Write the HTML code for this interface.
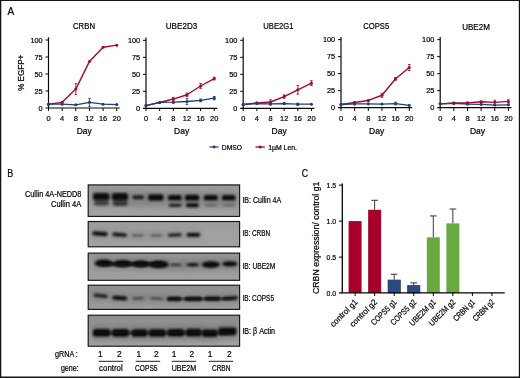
<!DOCTYPE html>
<html><head><meta charset="utf-8"><title>Figure</title>
<style>
html,body{margin:0;padding:0;background:#fff;}
body{width:520px;height:378px;overflow:hidden;font-family:"Liberation Sans",sans-serif;}
svg{display:block;}
svg text{font-family:"Liberation Sans",sans-serif;}
</style></head><body>
<svg width="520" height="378" viewBox="0 0 520 378">
<defs><filter id="b1" x="-30%" y="-60%" width="160%" height="220%"><feGaussianBlur stdDeviation="1.05 0.9"/></filter><filter id="b2" x="-50%" y="-80%" width="200%" height="260%"><feGaussianBlur stdDeviation="2.2 2.4"/></filter><clipPath id="cb0"><rect x="88.2" y="184.9" width="151.39999999999998" height="31.5"/></clipPath><linearGradient id="bg0" x1="0" y1="0" x2="0" y2="1"><stop offset="0" stop-color="#989898"/><stop offset="0.5" stop-color="#a0a0a0"/><stop offset="1" stop-color="#a1a1a1"/></linearGradient><clipPath id="cb1"><rect x="88.2" y="221.5" width="151.39999999999998" height="25.30000000000001"/></clipPath><linearGradient id="bg1" x1="0" y1="0" x2="0" y2="1"><stop offset="0" stop-color="#9a9a9a"/><stop offset="0.5" stop-color="#a1a1a1"/><stop offset="1" stop-color="#a1a1a1"/></linearGradient><clipPath id="cb2"><rect x="88.2" y="253.1" width="151.39999999999998" height="27.200000000000017"/></clipPath><linearGradient id="bg2" x1="0" y1="0" x2="0" y2="1"><stop offset="0" stop-color="#949494"/><stop offset="0.5" stop-color="#9d9d9d"/><stop offset="1" stop-color="#a0a0a0"/></linearGradient><clipPath id="cb3"><rect x="88.2" y="285.2" width="151.39999999999998" height="24.19999999999999"/></clipPath><linearGradient id="bg3" x1="0" y1="0" x2="0" y2="1"><stop offset="0" stop-color="#8f8f8f"/><stop offset="0.5" stop-color="#969696"/><stop offset="1" stop-color="#9b9b9b"/></linearGradient><clipPath id="cb4"><rect x="88.2" y="315.2" width="151.39999999999998" height="31.0"/></clipPath><linearGradient id="bg4" x1="0" y1="0" x2="0" y2="1"><stop offset="0" stop-color="#8f8f8f"/><stop offset="0.5" stop-color="#979797"/><stop offset="1" stop-color="#a2a2a2"/></linearGradient></defs>
<rect x="0" y="0" width="520" height="378" fill="#fff"/>
<g opacity="0.999">
<g transform="translate(0,0)">
<path d="M48.5,37.3V108.0" stroke="#0a0a0a" stroke-width="1.2" fill="none"/>
<path d="M45.5,108.0H119.75" stroke="#0a0a0a" stroke-width="1.2" fill="none"/>
<path d="M45.5,91.0H48.5" stroke="#000" stroke-width="1.0"/>
<path d="M45.5,74.0H48.5" stroke="#000" stroke-width="1.0"/>
<path d="M45.5,56.99999999999999H48.5" stroke="#000" stroke-width="1.0"/>
<path d="M45.5,40.0H48.5" stroke="#000" stroke-width="1.0"/>
<text x="42.7" y="110.85" font-size="8.0" text-anchor="end" fill="#000" textLength="4.1" lengthAdjust="spacingAndGlyphs" stroke="#000" stroke-width="0.22">0</text>
<text x="42.7" y="93.85" font-size="8.0" text-anchor="end" fill="#000" textLength="8.2" lengthAdjust="spacingAndGlyphs" stroke="#000" stroke-width="0.22">25</text>
<text x="42.7" y="76.85" font-size="8.0" text-anchor="end" fill="#000" textLength="8.2" lengthAdjust="spacingAndGlyphs" stroke="#000" stroke-width="0.22">50</text>
<text x="42.7" y="59.849999999999994" font-size="8.0" text-anchor="end" fill="#000" textLength="8.2" lengthAdjust="spacingAndGlyphs" stroke="#000" stroke-width="0.22">75</text>
<text x="42.7" y="42.85" font-size="8.0" text-anchor="end" fill="#000" textLength="12.299999999999999" lengthAdjust="spacingAndGlyphs" stroke="#000" stroke-width="0.22">100</text>
</g>
<path d="M48.50,108.0V111.0" stroke="#000" stroke-width="1.0"/>
<text x="48.50" y="121.3" font-size="8.0" text-anchor="middle" fill="#000" textLength="4.15" lengthAdjust="spacingAndGlyphs" stroke="#000" stroke-width="0.22">0</text>
<path d="M62.15,108.0V111.0" stroke="#000" stroke-width="1.0"/>
<text x="62.15" y="121.3" font-size="8.0" text-anchor="middle" fill="#000" textLength="4.15" lengthAdjust="spacingAndGlyphs" stroke="#000" stroke-width="0.22">4</text>
<path d="M75.80,108.0V111.0" stroke="#000" stroke-width="1.0"/>
<text x="75.80" y="121.3" font-size="8.0" text-anchor="middle" fill="#000" textLength="4.15" lengthAdjust="spacingAndGlyphs" stroke="#000" stroke-width="0.22">8</text>
<path d="M89.45,108.0V111.0" stroke="#000" stroke-width="1.0"/>
<text x="89.45" y="121.3" font-size="8.0" text-anchor="middle" fill="#000" textLength="8.3" lengthAdjust="spacingAndGlyphs" stroke="#000" stroke-width="0.22">12</text>
<path d="M103.10,108.0V111.0" stroke="#000" stroke-width="1.0"/>
<text x="103.10" y="121.3" font-size="8.0" text-anchor="middle" fill="#000" textLength="8.3" lengthAdjust="spacingAndGlyphs" stroke="#000" stroke-width="0.22">16</text>
<path d="M116.75,108.0V111.0" stroke="#000" stroke-width="1.0"/>
<text x="116.75" y="121.3" font-size="8.0" text-anchor="middle" fill="#000" textLength="8.3" lengthAdjust="spacingAndGlyphs" stroke="#000" stroke-width="0.22">20</text>
<text x="84" y="29.2" font-size="8.5" text-anchor="middle" fill="#000" textLength="22" lengthAdjust="spacingAndGlyphs" stroke="#000" stroke-width="0.22">CRBN</text>
<text x="84.2" y="133.5" font-size="8.6" text-anchor="middle" fill="#000" textLength="15.1" lengthAdjust="spacingAndGlyphs" stroke="#000" stroke-width="0.22">Day</text>
<g transform="translate(0,0)">
<polyline points="48.50,104.19 62.15,102.36 75.80,89.10 89.45,61.42 103.10,47.21 116.75,45.17" fill="none" stroke="#a40a2a" stroke-width="1.4" stroke-linejoin="round" stroke-linecap="round"/>
<circle cx="48.50" cy="104.19" r="1.5" fill="#a40a2a"/>
<circle cx="62.15" cy="102.36" r="1.5" fill="#a40a2a"/>
<path d="M75.80,83.66V94.54M74.50,83.66h2.6M74.50,94.54h2.6" stroke="#a40a2a" stroke-width="0.85" fill="none"/>
<circle cx="75.80" cy="89.10" r="1.5" fill="#a40a2a"/>
<circle cx="89.45" cy="61.42" r="1.5" fill="#a40a2a"/>
<circle cx="103.10" cy="47.21" r="1.5" fill="#a40a2a"/>
<circle cx="116.75" cy="45.17" r="1.5" fill="#a40a2a"/>
<polyline points="48.50,104.19 62.15,104.19 75.80,104.80 89.45,102.36 103.10,104.19 116.75,104.60" fill="none" stroke="#1f3f7d" stroke-width="1.3" stroke-linejoin="round" stroke-linecap="round"/>
<circle cx="48.50" cy="104.19" r="1.55" fill="#1f3f7d"/>
<circle cx="62.15" cy="104.19" r="1.55" fill="#1f3f7d"/>
<circle cx="75.80" cy="104.80" r="1.55" fill="#1f3f7d"/>
<path d="M89.45,98.41V106.30M88.15,98.41h2.6M88.15,106.30h2.6" stroke="#1f3f7d" stroke-width="0.85" fill="none"/>
<circle cx="89.45" cy="102.36" r="1.55" fill="#1f3f7d"/>
<circle cx="103.10" cy="104.19" r="1.55" fill="#1f3f7d"/>
<circle cx="116.75" cy="104.60" r="1.55" fill="#1f3f7d"/>
</g>
<g transform="translate(0,0.3)">
<path d="M146.0,37.3V108.0" stroke="#0a0a0a" stroke-width="1.2" fill="none"/>
<path d="M143.0,108.0H217.25" stroke="#0a0a0a" stroke-width="1.2" fill="none"/>
<path d="M143.0,91.0H146.0" stroke="#000" stroke-width="1.0"/>
<path d="M143.0,74.0H146.0" stroke="#000" stroke-width="1.0"/>
<path d="M143.0,56.99999999999999H146.0" stroke="#000" stroke-width="1.0"/>
<path d="M143.0,40.0H146.0" stroke="#000" stroke-width="1.0"/>
<text x="140.2" y="110.85" font-size="8.0" text-anchor="end" fill="#000" textLength="4.1" lengthAdjust="spacingAndGlyphs" stroke="#000" stroke-width="0.22">0</text>
<text x="140.2" y="93.85" font-size="8.0" text-anchor="end" fill="#000" textLength="8.2" lengthAdjust="spacingAndGlyphs" stroke="#000" stroke-width="0.22">25</text>
<text x="140.2" y="76.85" font-size="8.0" text-anchor="end" fill="#000" textLength="8.2" lengthAdjust="spacingAndGlyphs" stroke="#000" stroke-width="0.22">50</text>
<text x="140.2" y="59.849999999999994" font-size="8.0" text-anchor="end" fill="#000" textLength="8.2" lengthAdjust="spacingAndGlyphs" stroke="#000" stroke-width="0.22">75</text>
<text x="140.2" y="42.85" font-size="8.0" text-anchor="end" fill="#000" textLength="12.299999999999999" lengthAdjust="spacingAndGlyphs" stroke="#000" stroke-width="0.22">100</text>
</g>
<path d="M146.00,108.0V111.0" stroke="#000" stroke-width="1.0"/>
<text x="146.00" y="121.3" font-size="8.0" text-anchor="middle" fill="#000" textLength="4.15" lengthAdjust="spacingAndGlyphs" stroke="#000" stroke-width="0.22">0</text>
<path d="M159.65,108.0V111.0" stroke="#000" stroke-width="1.0"/>
<text x="159.65" y="121.3" font-size="8.0" text-anchor="middle" fill="#000" textLength="4.15" lengthAdjust="spacingAndGlyphs" stroke="#000" stroke-width="0.22">4</text>
<path d="M173.30,108.0V111.0" stroke="#000" stroke-width="1.0"/>
<text x="173.30" y="121.3" font-size="8.0" text-anchor="middle" fill="#000" textLength="4.15" lengthAdjust="spacingAndGlyphs" stroke="#000" stroke-width="0.22">8</text>
<path d="M186.95,108.0V111.0" stroke="#000" stroke-width="1.0"/>
<text x="186.95" y="121.3" font-size="8.0" text-anchor="middle" fill="#000" textLength="8.3" lengthAdjust="spacingAndGlyphs" stroke="#000" stroke-width="0.22">12</text>
<path d="M200.60,108.0V111.0" stroke="#000" stroke-width="1.0"/>
<text x="200.60" y="121.3" font-size="8.0" text-anchor="middle" fill="#000" textLength="8.3" lengthAdjust="spacingAndGlyphs" stroke="#000" stroke-width="0.22">16</text>
<path d="M214.25,108.0V111.0" stroke="#000" stroke-width="1.0"/>
<text x="214.25" y="121.3" font-size="8.0" text-anchor="middle" fill="#000" textLength="8.3" lengthAdjust="spacingAndGlyphs" stroke="#000" stroke-width="0.22">20</text>
<text x="181.5" y="29.3" font-size="8.5" text-anchor="middle" fill="#000" textLength="31.4" lengthAdjust="spacingAndGlyphs" stroke="#000" stroke-width="0.22">UBE2D3</text>
<text x="181.6" y="133.5" font-size="8.6" text-anchor="middle" fill="#000" textLength="15.1" lengthAdjust="spacingAndGlyphs" stroke="#000" stroke-width="0.22">Day</text>
<g transform="translate(0,0.3)">
<polyline points="146.00,105.28 159.65,102.15 173.30,98.75 186.95,94.47 200.60,85.70 214.25,78.28" fill="none" stroke="#a40a2a" stroke-width="1.4" stroke-linejoin="round" stroke-linecap="round"/>
<circle cx="146.00" cy="105.28" r="1.5" fill="#a40a2a"/>
<circle cx="159.65" cy="102.15" r="1.5" fill="#a40a2a"/>
<path d="M173.30,97.05V100.45M172.00,97.05h2.6M172.00,100.45h2.6" stroke="#a40a2a" stroke-width="0.85" fill="none"/>
<circle cx="173.30" cy="98.75" r="1.5" fill="#a40a2a"/>
<path d="M186.95,92.77V96.17M185.65,92.77h2.6M185.65,96.17h2.6" stroke="#a40a2a" stroke-width="0.85" fill="none"/>
<circle cx="186.95" cy="94.47" r="1.5" fill="#a40a2a"/>
<path d="M200.60,83.32V88.08M199.30,83.32h2.6M199.30,88.08h2.6" stroke="#a40a2a" stroke-width="0.85" fill="none"/>
<circle cx="200.60" cy="85.70" r="1.5" fill="#a40a2a"/>
<path d="M214.25,76.92V79.64M212.95,76.92h2.6M212.95,79.64h2.6" stroke="#a40a2a" stroke-width="0.85" fill="none"/>
<circle cx="214.25" cy="78.28" r="1.5" fill="#a40a2a"/>
<polyline points="146.00,105.28 159.65,102.15 173.30,101.88 186.95,101.20 200.60,100.11 214.25,97.87" fill="none" stroke="#1f3f7d" stroke-width="1.3" stroke-linejoin="round" stroke-linecap="round"/>
<circle cx="146.00" cy="105.28" r="1.55" fill="#1f3f7d"/>
<circle cx="159.65" cy="102.15" r="1.55" fill="#1f3f7d"/>
<path d="M173.30,100.86V102.90M172.00,100.86h2.6M172.00,102.90h2.6" stroke="#1f3f7d" stroke-width="0.85" fill="none"/>
<circle cx="173.30" cy="101.88" r="1.55" fill="#1f3f7d"/>
<path d="M186.95,98.14V104.26M185.65,98.14h2.6M185.65,104.26h2.6" stroke="#1f3f7d" stroke-width="0.85" fill="none"/>
<circle cx="186.95" cy="101.20" r="1.55" fill="#1f3f7d"/>
<path d="M200.60,98.75V101.47M199.30,98.75h2.6M199.30,101.47h2.6" stroke="#1f3f7d" stroke-width="0.85" fill="none"/>
<circle cx="200.60" cy="100.11" r="1.55" fill="#1f3f7d"/>
<path d="M214.25,96.17V99.57M212.95,96.17h2.6M212.95,99.57h2.6" stroke="#1f3f7d" stroke-width="0.85" fill="none"/>
<circle cx="214.25" cy="97.87" r="1.55" fill="#1f3f7d"/>
</g>
<g transform="translate(0,0.3)">
<path d="M243.2,37.3V108.0" stroke="#0a0a0a" stroke-width="1.2" fill="none"/>
<path d="M240.2,108.0H314.45" stroke="#0a0a0a" stroke-width="1.2" fill="none"/>
<path d="M240.2,91.0H243.2" stroke="#000" stroke-width="1.0"/>
<path d="M240.2,74.0H243.2" stroke="#000" stroke-width="1.0"/>
<path d="M240.2,56.99999999999999H243.2" stroke="#000" stroke-width="1.0"/>
<path d="M240.2,40.0H243.2" stroke="#000" stroke-width="1.0"/>
<text x="237.39999999999998" y="110.85" font-size="8.0" text-anchor="end" fill="#000" textLength="4.1" lengthAdjust="spacingAndGlyphs" stroke="#000" stroke-width="0.22">0</text>
<text x="237.39999999999998" y="93.85" font-size="8.0" text-anchor="end" fill="#000" textLength="8.2" lengthAdjust="spacingAndGlyphs" stroke="#000" stroke-width="0.22">25</text>
<text x="237.39999999999998" y="76.85" font-size="8.0" text-anchor="end" fill="#000" textLength="8.2" lengthAdjust="spacingAndGlyphs" stroke="#000" stroke-width="0.22">50</text>
<text x="237.39999999999998" y="59.849999999999994" font-size="8.0" text-anchor="end" fill="#000" textLength="8.2" lengthAdjust="spacingAndGlyphs" stroke="#000" stroke-width="0.22">75</text>
<text x="237.39999999999998" y="42.85" font-size="8.0" text-anchor="end" fill="#000" textLength="12.299999999999999" lengthAdjust="spacingAndGlyphs" stroke="#000" stroke-width="0.22">100</text>
</g>
<path d="M243.20,108.0V111.0" stroke="#000" stroke-width="1.0"/>
<text x="243.20" y="121.3" font-size="8.0" text-anchor="middle" fill="#000" textLength="4.15" lengthAdjust="spacingAndGlyphs" stroke="#000" stroke-width="0.22">0</text>
<path d="M256.85,108.0V111.0" stroke="#000" stroke-width="1.0"/>
<text x="256.85" y="121.3" font-size="8.0" text-anchor="middle" fill="#000" textLength="4.15" lengthAdjust="spacingAndGlyphs" stroke="#000" stroke-width="0.22">4</text>
<path d="M270.50,108.0V111.0" stroke="#000" stroke-width="1.0"/>
<text x="270.50" y="121.3" font-size="8.0" text-anchor="middle" fill="#000" textLength="4.15" lengthAdjust="spacingAndGlyphs" stroke="#000" stroke-width="0.22">8</text>
<path d="M284.15,108.0V111.0" stroke="#000" stroke-width="1.0"/>
<text x="284.15" y="121.3" font-size="8.0" text-anchor="middle" fill="#000" textLength="8.3" lengthAdjust="spacingAndGlyphs" stroke="#000" stroke-width="0.22">12</text>
<path d="M297.80,108.0V111.0" stroke="#000" stroke-width="1.0"/>
<text x="297.80" y="121.3" font-size="8.0" text-anchor="middle" fill="#000" textLength="8.3" lengthAdjust="spacingAndGlyphs" stroke="#000" stroke-width="0.22">16</text>
<path d="M311.45,108.0V111.0" stroke="#000" stroke-width="1.0"/>
<text x="311.45" y="121.3" font-size="8.0" text-anchor="middle" fill="#000" textLength="8.3" lengthAdjust="spacingAndGlyphs" stroke="#000" stroke-width="0.22">20</text>
<text x="278.4" y="29.3" font-size="8.5" text-anchor="middle" fill="#000" textLength="30.2" lengthAdjust="spacingAndGlyphs" stroke="#000" stroke-width="0.22">UBE2G1</text>
<text x="279.1" y="133.5" font-size="8.6" text-anchor="middle" fill="#000" textLength="15.1" lengthAdjust="spacingAndGlyphs" stroke="#000" stroke-width="0.22">Day</text>
<g transform="translate(0,0.3)">
<polyline points="243.20,104.19 256.85,102.56 270.50,101.68 284.15,96.30 297.80,89.50 311.45,82.84" fill="none" stroke="#a40a2a" stroke-width="1.4" stroke-linejoin="round" stroke-linecap="round"/>
<circle cx="243.20" cy="104.19" r="1.5" fill="#a40a2a"/>
<circle cx="256.85" cy="102.56" r="1.5" fill="#a40a2a"/>
<path d="M270.50,99.43V103.92M269.20,99.43h2.6M269.20,103.92h2.6" stroke="#a40a2a" stroke-width="0.85" fill="none"/>
<circle cx="270.50" cy="101.68" r="1.5" fill="#a40a2a"/>
<path d="M284.15,94.60V98.00M282.85,94.60h2.6M282.85,98.00h2.6" stroke="#a40a2a" stroke-width="0.85" fill="none"/>
<circle cx="284.15" cy="96.30" r="1.5" fill="#a40a2a"/>
<path d="M297.80,85.15V93.86M296.50,85.15h2.6M296.50,93.86h2.6" stroke="#a40a2a" stroke-width="0.85" fill="none"/>
<circle cx="297.80" cy="89.50" r="1.5" fill="#a40a2a"/>
<path d="M311.45,80.39V85.29M310.15,80.39h2.6M310.15,85.29h2.6" stroke="#a40a2a" stroke-width="0.85" fill="none"/>
<circle cx="311.45" cy="82.84" r="1.5" fill="#a40a2a"/>
<polyline points="243.20,104.19 256.85,103.24 270.50,103.65 284.15,103.24 297.80,103.92 311.45,103.92" fill="none" stroke="#1f3f7d" stroke-width="1.3" stroke-linejoin="round" stroke-linecap="round"/>
<circle cx="243.20" cy="104.19" r="1.55" fill="#1f3f7d"/>
<circle cx="256.85" cy="103.24" r="1.55" fill="#1f3f7d"/>
<path d="M270.50,102.63V104.67M269.20,102.63h2.6M269.20,104.67h2.6" stroke="#1f3f7d" stroke-width="0.85" fill="none"/>
<circle cx="270.50" cy="103.65" r="1.55" fill="#1f3f7d"/>
<path d="M284.15,102.22V104.26M282.85,102.22h2.6M282.85,104.26h2.6" stroke="#1f3f7d" stroke-width="0.85" fill="none"/>
<circle cx="284.15" cy="103.24" r="1.55" fill="#1f3f7d"/>
<path d="M297.80,102.90V104.94M296.50,102.90h2.6M296.50,104.94h2.6" stroke="#1f3f7d" stroke-width="0.85" fill="none"/>
<circle cx="297.80" cy="103.92" r="1.55" fill="#1f3f7d"/>
<circle cx="311.45" cy="103.92" r="1.55" fill="#1f3f7d"/>
</g>
<g transform="translate(0,-0.35)">
<path d="M341.0,37.3V108.0" stroke="#0a0a0a" stroke-width="1.2" fill="none"/>
<path d="M338.0,108.0H412.25" stroke="#0a0a0a" stroke-width="1.2" fill="none"/>
<path d="M338.0,91.0H341.0" stroke="#000" stroke-width="1.0"/>
<path d="M338.0,74.0H341.0" stroke="#000" stroke-width="1.0"/>
<path d="M338.0,56.99999999999999H341.0" stroke="#000" stroke-width="1.0"/>
<path d="M338.0,40.0H341.0" stroke="#000" stroke-width="1.0"/>
<text x="335.2" y="110.85" font-size="8.0" text-anchor="end" fill="#000" textLength="4.1" lengthAdjust="spacingAndGlyphs" stroke="#000" stroke-width="0.22">0</text>
<text x="335.2" y="93.85" font-size="8.0" text-anchor="end" fill="#000" textLength="8.2" lengthAdjust="spacingAndGlyphs" stroke="#000" stroke-width="0.22">25</text>
<text x="335.2" y="76.85" font-size="8.0" text-anchor="end" fill="#000" textLength="8.2" lengthAdjust="spacingAndGlyphs" stroke="#000" stroke-width="0.22">50</text>
<text x="335.2" y="59.849999999999994" font-size="8.0" text-anchor="end" fill="#000" textLength="8.2" lengthAdjust="spacingAndGlyphs" stroke="#000" stroke-width="0.22">75</text>
<text x="335.2" y="42.85" font-size="8.0" text-anchor="end" fill="#000" textLength="12.299999999999999" lengthAdjust="spacingAndGlyphs" stroke="#000" stroke-width="0.22">100</text>
</g>
<path d="M341.00,108.0V111.0" stroke="#000" stroke-width="1.0"/>
<text x="341.00" y="121.3" font-size="8.0" text-anchor="middle" fill="#000" textLength="4.15" lengthAdjust="spacingAndGlyphs" stroke="#000" stroke-width="0.22">0</text>
<path d="M354.65,108.0V111.0" stroke="#000" stroke-width="1.0"/>
<text x="354.65" y="121.3" font-size="8.0" text-anchor="middle" fill="#000" textLength="4.15" lengthAdjust="spacingAndGlyphs" stroke="#000" stroke-width="0.22">4</text>
<path d="M368.30,108.0V111.0" stroke="#000" stroke-width="1.0"/>
<text x="368.30" y="121.3" font-size="8.0" text-anchor="middle" fill="#000" textLength="4.15" lengthAdjust="spacingAndGlyphs" stroke="#000" stroke-width="0.22">8</text>
<path d="M381.95,108.0V111.0" stroke="#000" stroke-width="1.0"/>
<text x="381.95" y="121.3" font-size="8.0" text-anchor="middle" fill="#000" textLength="8.3" lengthAdjust="spacingAndGlyphs" stroke="#000" stroke-width="0.22">12</text>
<path d="M395.60,108.0V111.0" stroke="#000" stroke-width="1.0"/>
<text x="395.60" y="121.3" font-size="8.0" text-anchor="middle" fill="#000" textLength="8.3" lengthAdjust="spacingAndGlyphs" stroke="#000" stroke-width="0.22">16</text>
<path d="M409.25,108.0V111.0" stroke="#000" stroke-width="1.0"/>
<text x="409.25" y="121.3" font-size="8.0" text-anchor="middle" fill="#000" textLength="8.3" lengthAdjust="spacingAndGlyphs" stroke="#000" stroke-width="0.22">20</text>
<text x="376.2" y="29.3" font-size="8.5" text-anchor="middle" fill="#000" textLength="25.9" lengthAdjust="spacingAndGlyphs" stroke="#000" stroke-width="0.22">COPS5</text>
<text x="376.6" y="133.5" font-size="8.6" text-anchor="middle" fill="#000" textLength="15.1" lengthAdjust="spacingAndGlyphs" stroke="#000" stroke-width="0.22">Day</text>
<g transform="translate(0,-0.35)">
<polyline points="341.00,104.87 354.65,102.83 368.30,100.79 381.95,95.62 395.60,79.17 409.25,67.88" fill="none" stroke="#a40a2a" stroke-width="1.4" stroke-linejoin="round" stroke-linecap="round"/>
<circle cx="341.00" cy="104.87" r="1.5" fill="#a40a2a"/>
<path d="M354.65,102.15V103.51M353.35,102.15h2.6M353.35,103.51h2.6" stroke="#a40a2a" stroke-width="0.85" fill="none"/>
<circle cx="354.65" cy="102.83" r="1.5" fill="#a40a2a"/>
<path d="M368.30,100.11V101.47M367.00,100.11h2.6M367.00,101.47h2.6" stroke="#a40a2a" stroke-width="0.85" fill="none"/>
<circle cx="368.30" cy="100.79" r="1.5" fill="#a40a2a"/>
<path d="M381.95,93.58V97.66M380.65,93.58h2.6M380.65,97.66h2.6" stroke="#a40a2a" stroke-width="0.85" fill="none"/>
<circle cx="381.95" cy="95.62" r="1.5" fill="#a40a2a"/>
<path d="M395.60,77.81V80.53M394.30,77.81h2.6M394.30,80.53h2.6" stroke="#a40a2a" stroke-width="0.85" fill="none"/>
<circle cx="395.60" cy="79.17" r="1.5" fill="#a40a2a"/>
<path d="M409.25,64.82V70.94M407.95,64.82h2.6M407.95,70.94h2.6" stroke="#a40a2a" stroke-width="0.85" fill="none"/>
<circle cx="409.25" cy="67.88" r="1.5" fill="#a40a2a"/>
<polyline points="341.00,104.87 354.65,104.19 368.30,104.19 381.95,104.40 395.60,103.92 409.25,105.69" fill="none" stroke="#1f3f7d" stroke-width="1.3" stroke-linejoin="round" stroke-linecap="round"/>
<circle cx="341.00" cy="104.87" r="1.55" fill="#1f3f7d"/>
<path d="M354.65,103.17V105.21M353.35,103.17h2.6M353.35,105.21h2.6" stroke="#1f3f7d" stroke-width="0.85" fill="none"/>
<circle cx="354.65" cy="104.19" r="1.55" fill="#1f3f7d"/>
<circle cx="368.30" cy="104.19" r="1.55" fill="#1f3f7d"/>
<circle cx="381.95" cy="104.40" r="1.55" fill="#1f3f7d"/>
<path d="M395.60,102.56V105.28M394.30,102.56h2.6M394.30,105.28h2.6" stroke="#1f3f7d" stroke-width="0.85" fill="none"/>
<circle cx="395.60" cy="103.92" r="1.55" fill="#1f3f7d"/>
<circle cx="409.25" cy="105.69" r="1.55" fill="#1f3f7d"/>
</g>
<g transform="translate(0,-0.35)">
<path d="M440.2,37.3V108.0" stroke="#0a0a0a" stroke-width="1.2" fill="none"/>
<path d="M437.2,108.0H511.45" stroke="#0a0a0a" stroke-width="1.2" fill="none"/>
<path d="M437.2,91.0H440.2" stroke="#000" stroke-width="1.0"/>
<path d="M437.2,74.0H440.2" stroke="#000" stroke-width="1.0"/>
<path d="M437.2,56.99999999999999H440.2" stroke="#000" stroke-width="1.0"/>
<path d="M437.2,40.0H440.2" stroke="#000" stroke-width="1.0"/>
<text x="434.4" y="110.85" font-size="8.0" text-anchor="end" fill="#000" textLength="4.1" lengthAdjust="spacingAndGlyphs" stroke="#000" stroke-width="0.22">0</text>
<text x="434.4" y="93.85" font-size="8.0" text-anchor="end" fill="#000" textLength="8.2" lengthAdjust="spacingAndGlyphs" stroke="#000" stroke-width="0.22">25</text>
<text x="434.4" y="76.85" font-size="8.0" text-anchor="end" fill="#000" textLength="8.2" lengthAdjust="spacingAndGlyphs" stroke="#000" stroke-width="0.22">50</text>
<text x="434.4" y="59.849999999999994" font-size="8.0" text-anchor="end" fill="#000" textLength="8.2" lengthAdjust="spacingAndGlyphs" stroke="#000" stroke-width="0.22">75</text>
<text x="434.4" y="42.85" font-size="8.0" text-anchor="end" fill="#000" textLength="12.299999999999999" lengthAdjust="spacingAndGlyphs" stroke="#000" stroke-width="0.22">100</text>
</g>
<path d="M440.20,108.0V111.0" stroke="#000" stroke-width="1.0"/>
<text x="440.20" y="121.3" font-size="8.0" text-anchor="middle" fill="#000" textLength="4.15" lengthAdjust="spacingAndGlyphs" stroke="#000" stroke-width="0.22">0</text>
<path d="M453.85,108.0V111.0" stroke="#000" stroke-width="1.0"/>
<text x="453.85" y="121.3" font-size="8.0" text-anchor="middle" fill="#000" textLength="4.15" lengthAdjust="spacingAndGlyphs" stroke="#000" stroke-width="0.22">4</text>
<path d="M467.50,108.0V111.0" stroke="#000" stroke-width="1.0"/>
<text x="467.50" y="121.3" font-size="8.0" text-anchor="middle" fill="#000" textLength="4.15" lengthAdjust="spacingAndGlyphs" stroke="#000" stroke-width="0.22">8</text>
<path d="M481.15,108.0V111.0" stroke="#000" stroke-width="1.0"/>
<text x="481.15" y="121.3" font-size="8.0" text-anchor="middle" fill="#000" textLength="8.3" lengthAdjust="spacingAndGlyphs" stroke="#000" stroke-width="0.22">12</text>
<path d="M494.80,108.0V111.0" stroke="#000" stroke-width="1.0"/>
<text x="494.80" y="121.3" font-size="8.0" text-anchor="middle" fill="#000" textLength="8.3" lengthAdjust="spacingAndGlyphs" stroke="#000" stroke-width="0.22">16</text>
<path d="M508.45,108.0V111.0" stroke="#000" stroke-width="1.0"/>
<text x="508.45" y="121.3" font-size="8.0" text-anchor="middle" fill="#000" textLength="8.3" lengthAdjust="spacingAndGlyphs" stroke="#000" stroke-width="0.22">20</text>
<text x="476" y="30.3" font-size="8.5" text-anchor="middle" fill="#000" textLength="27.7" lengthAdjust="spacingAndGlyphs" stroke="#000" stroke-width="0.22">UBE2M</text>
<text x="477.5" y="133.5" font-size="8.6" text-anchor="middle" fill="#000" textLength="15.1" lengthAdjust="spacingAndGlyphs" stroke="#000" stroke-width="0.22">Day</text>
<g transform="translate(0,-0.35)">
<polyline points="440.20,104.19 453.85,103.38 467.50,103.38 481.15,102.15 494.80,102.70 508.45,101.74" fill="none" stroke="#a40a2a" stroke-width="1.4" stroke-linejoin="round" stroke-linecap="round"/>
<circle cx="440.20" cy="104.19" r="1.5" fill="#a40a2a"/>
<path d="M453.85,102.70V104.06M452.55,102.70h2.6M452.55,104.06h2.6" stroke="#a40a2a" stroke-width="0.85" fill="none"/>
<circle cx="453.85" cy="103.38" r="1.5" fill="#a40a2a"/>
<path d="M467.50,102.36V104.40M466.20,102.36h2.6M466.20,104.40h2.6" stroke="#a40a2a" stroke-width="0.85" fill="none"/>
<circle cx="467.50" cy="103.38" r="1.5" fill="#a40a2a"/>
<path d="M481.15,101.34V102.97M479.85,101.34h2.6M479.85,102.97h2.6" stroke="#a40a2a" stroke-width="0.85" fill="none"/>
<circle cx="481.15" cy="102.15" r="1.5" fill="#a40a2a"/>
<path d="M494.80,100.66V104.74M493.50,100.66h2.6M493.50,104.74h2.6" stroke="#a40a2a" stroke-width="0.85" fill="none"/>
<circle cx="494.80" cy="102.70" r="1.5" fill="#a40a2a"/>
<path d="M508.45,100.04V103.44M507.15,100.04h2.6M507.15,103.44h2.6" stroke="#a40a2a" stroke-width="0.85" fill="none"/>
<circle cx="508.45" cy="101.74" r="1.5" fill="#a40a2a"/>
<polyline points="440.20,104.19 453.85,103.78 467.50,104.46 481.15,104.74 494.80,105.42 508.45,105.14" fill="none" stroke="#1f3f7d" stroke-width="1.3" stroke-linejoin="round" stroke-linecap="round"/>
<circle cx="440.20" cy="104.19" r="1.55" fill="#1f3f7d"/>
<circle cx="453.85" cy="103.78" r="1.55" fill="#1f3f7d"/>
<circle cx="467.50" cy="104.46" r="1.55" fill="#1f3f7d"/>
<circle cx="481.15" cy="104.74" r="1.55" fill="#1f3f7d"/>
<circle cx="494.80" cy="105.42" r="1.55" fill="#1f3f7d"/>
<circle cx="508.45" cy="105.14" r="1.55" fill="#1f3f7d"/>
</g>
<text transform="translate(23.6,72.8) rotate(-90)" font-size="8.5" text-anchor="middle" fill="#000" stroke="#000" stroke-width="0.22" textLength="36" lengthAdjust="spacingAndGlyphs">% EGFP+</text>
<path d="M209.5,147.0H218.6" stroke="#1f3f7d" stroke-width="1.2"/><circle cx="214.1" cy="147.0" r="1.45" fill="#1f3f7d"/>
<text x="221.8" y="149.5" font-size="6.8" text-anchor="start" fill="#000" textLength="20.2" lengthAdjust="spacingAndGlyphs" stroke="#000" stroke-width="0.22">DMSO</text>
<path d="M255.5,147.0H264.8" stroke="#a40a2a" stroke-width="1.3"/><circle cx="260.2" cy="147.0" r="1.5" fill="#a40a2a"/>
<text x="268.3" y="149.5" font-size="6.8" text-anchor="start" fill="#000" textLength="28.6" lengthAdjust="spacingAndGlyphs" stroke="#000" stroke-width="0.22">1µM Len.</text>
<text x="7.4" y="14.9" font-size="10.9" text-anchor="start" fill="#000" textLength="6.7" lengthAdjust="spacingAndGlyphs" stroke="#000" stroke-width="0.22">A</text>
<text x="7.3" y="176.8" font-size="11.3" text-anchor="start" fill="#000" textLength="6.0" lengthAdjust="spacingAndGlyphs" stroke="#000" stroke-width="0.22">B</text>
<text x="301.8" y="176.8" font-size="10.9" text-anchor="start" fill="#000" textLength="6.3" lengthAdjust="spacingAndGlyphs" stroke="#000" stroke-width="0.22">C</text>
<rect x="88.2" y="184.9" width="151.39999999999998" height="31.5" fill="url(#bg0)"/>
<rect x="88.2" y="221.5" width="151.39999999999998" height="25.30000000000001" fill="url(#bg1)"/>
<rect x="88.2" y="253.1" width="151.39999999999998" height="27.200000000000017" fill="url(#bg2)"/>
<rect x="88.2" y="285.2" width="151.39999999999998" height="24.19999999999999" fill="url(#bg3)"/>
<rect x="88.2" y="315.2" width="151.39999999999998" height="31.0" fill="url(#bg4)"/>
<g clip-path="url(#cb0)">
<rect x="91.70" y="191.10" width="19" height="15" rx="3" fill="#000" opacity="0.16" filter="url(#b2)"/>
<rect x="110.40" y="191.20" width="19" height="15" rx="3" fill="#000" opacity="0.16" filter="url(#b2)"/>
<rect x="128.70" y="191.70" width="19" height="15" rx="3" fill="#000" opacity="0.16" filter="url(#b2)"/>
<rect x="146.30" y="192.00" width="19" height="15" rx="3" fill="#000" opacity="0.16" filter="url(#b2)"/>
<rect x="165.30" y="192.30" width="19" height="15" rx="3" fill="#000" opacity="0.16" filter="url(#b2)"/>
<rect x="182.60" y="192.30" width="19" height="15" rx="3" fill="#000" opacity="0.16" filter="url(#b2)"/>
<rect x="201.30" y="192.30" width="19" height="15" rx="3" fill="#000" opacity="0.16" filter="url(#b2)"/>
<rect x="219.20" y="192.30" width="19" height="15" rx="3" fill="#000" opacity="0.16" filter="url(#b2)"/>
<rect x="94.20" y="201.40" width="14.6" height="4.0" rx="2.00" fill="#101010" opacity="0.58" filter="url(#b1)"/>
<rect x="94.60" y="198.30" width="13.6" height="4" rx="2.00" fill="#101010" opacity="0.45" filter="url(#b1)"/>
<rect x="93.00" y="193.10" width="16.4" height="7.0" rx="2.60" fill="#101010" opacity="1" filter="url(#b1)"/>
<rect x="112.80" y="201.60" width="14.8" height="4.4" rx="2.20" fill="#101010" opacity="0.66" filter="url(#b1)"/>
<rect x="113.20" y="198.55" width="13.8" height="4" rx="2.00" fill="#101010" opacity="0.45" filter="url(#b1)"/>
<rect x="111.80" y="193.10" width="16.2" height="7.2" rx="2.60" fill="#101010" opacity="1" filter="url(#b1)"/>
<rect x="132.45" y="195.20" width="11.5" height="4.0" rx="2.00" fill="#101010" opacity="0.85" filter="url(#b1)"/>
<rect x="148.10" y="194.35" width="15.4" height="6.3" rx="2.60" fill="#101010" opacity="1" filter="url(#b1)"/>
<rect x="168.80" y="203.60" width="12.6" height="3.4" rx="1.70" fill="#101010" opacity="0.8" filter="url(#b1)"/>
<rect x="167.90" y="195.05" width="13.8" height="5.5" rx="2.60" fill="#101010" opacity="1" filter="url(#b1)"/>
<rect x="186.00" y="203.00" width="12.8" height="4.6" rx="2.30" fill="#101010" opacity="0.95" filter="url(#b1)"/>
<rect x="185.00" y="194.75" width="14.2" height="6.1" rx="2.60" fill="#101010" opacity="1" filter="url(#b1)"/>
<rect x="205.60" y="204.20" width="11" height="2.4" rx="1.20" fill="#101010" opacity="0.35" filter="url(#b1)"/>
<rect x="203.80" y="195.05" width="14" height="5.5" rx="2.60" fill="#101010" opacity="1" filter="url(#b1)"/>
<rect x="223.50" y="204.20" width="11" height="2.4" rx="1.20" fill="#101010" opacity="0.32" filter="url(#b1)"/>
<rect x="221.90" y="195.05" width="13.6" height="5.5" rx="2.60" fill="#101010" opacity="1" filter="url(#b1)"/>
</g>
<g clip-path="url(#cb1)">
<rect x="91.40" y="229.70" width="17" height="8" rx="3" fill="#000" opacity="0.12" filter="url(#b2)"/>
<rect x="92.20" y="231.70" width="15.4" height="4.0" rx="2.00" fill="#101010" opacity="1" filter="url(#b1)" transform="rotate(4 99.9 233.7)"/>
<rect x="111.10" y="230.80" width="17" height="8" rx="3" fill="#000" opacity="0.12" filter="url(#b2)"/>
<rect x="112.20" y="233.00" width="14.8" height="3.6" rx="1.80" fill="#101010" opacity="0.95" filter="url(#b1)" transform="rotate(5 119.6 234.8)"/>
<rect x="129.30" y="231.40" width="17" height="8" rx="3" fill="#000" opacity="0.12" filter="url(#b2)"/>
<rect x="132.55" y="234.65" width="10.5" height="1.5" rx="0.75" fill="#101010" opacity="0.5" filter="url(#b1)"/>
<rect x="147.50" y="231.50" width="17" height="8" rx="3" fill="#000" opacity="0.12" filter="url(#b2)"/>
<rect x="150.50" y="234.75" width="11" height="1.5" rx="0.75" fill="#101010" opacity="0.5" filter="url(#b1)"/>
<rect x="166.30" y="231.00" width="17" height="8" rx="3" fill="#000" opacity="0.12" filter="url(#b2)"/>
<rect x="168.00" y="233.60" width="13.6" height="2.8" rx="1.40" fill="#101010" opacity="0.9" filter="url(#b1)" transform="rotate(-3 174.8 235.0)"/>
<rect x="184.80" y="230.90" width="17" height="8" rx="3" fill="#000" opacity="0.12" filter="url(#b2)"/>
<rect x="186.60" y="233.10" width="13.4" height="3.6" rx="1.80" fill="#101010" opacity="1" filter="url(#b1)"/>
</g>
<g clip-path="url(#cb2)">
<rect x="94.20" y="257.20" width="19" height="12" rx="3" fill="#000" opacity="0.14" filter="url(#b2)"/>
<rect x="113.10" y="257.60" width="19" height="12" rx="3" fill="#000" opacity="0.14" filter="url(#b2)"/>
<rect x="131.30" y="258.00" width="19" height="12" rx="3" fill="#000" opacity="0.14" filter="url(#b2)"/>
<rect x="149.30" y="258.40" width="19" height="12" rx="3" fill="#000" opacity="0.14" filter="url(#b2)"/>
<rect x="166.10" y="258.90" width="19" height="12" rx="3" fill="#000" opacity="0.14" filter="url(#b2)"/>
<rect x="183.20" y="258.80" width="19" height="12" rx="3" fill="#000" opacity="0.14" filter="url(#b2)"/>
<rect x="201.30" y="258.60" width="19" height="12" rx="3" fill="#000" opacity="0.14" filter="url(#b2)"/>
<rect x="220.30" y="257.90" width="19" height="12" rx="3" fill="#000" opacity="0.14" filter="url(#b2)"/>
<ellipse cx="103.7" cy="263.2" rx="9.1" ry="3.6" fill="#101010" filter="url(#b1)"/>
<ellipse cx="122.6" cy="263.6" rx="9.3" ry="3.6" fill="#101010" filter="url(#b1)"/>
<ellipse cx="140.8" cy="264.0" rx="9.1" ry="3.5" fill="#101010" filter="url(#b1)"/>
<ellipse cx="158.8" cy="264.4" rx="9.9" ry="3.9000000000000004" fill="#101010" filter="url(#b1)"/>
<rect x="170.10" y="263.70" width="11" height="2.4" rx="1.20" fill="#101010" opacity="0.72" filter="url(#b1)"/>
<ellipse cx="192.7" cy="264.8" rx="6.4" ry="1.7" fill="#101010" filter="url(#b1)"/>
<ellipse cx="210.8" cy="264.6" rx="9.200000000000001" ry="3.4000000000000004" fill="#101010" filter="url(#b1)"/>
<ellipse cx="229.8" cy="263.9" rx="7.7" ry="2.7" fill="#101010" filter="url(#b1)"/>
<rect x="100" y="262.6" width="62" height="3.2" fill="#101010" filter="url(#b1)"/>
</g>
<g clip-path="url(#cb3)">
<rect x="91.70" y="291.30" width="18" height="9" rx="3" fill="#000" opacity="0.13" filter="url(#b2)"/>
<rect x="110.70" y="293.60" width="18" height="9" rx="3" fill="#000" opacity="0.13" filter="url(#b2)"/>
<rect x="129.20" y="293.80" width="18" height="9" rx="3" fill="#000" opacity="0.13" filter="url(#b2)"/>
<rect x="147.40" y="294.00" width="18" height="9" rx="3" fill="#000" opacity="0.13" filter="url(#b2)"/>
<rect x="165.00" y="294.40" width="18" height="9" rx="3" fill="#000" opacity="0.13" filter="url(#b2)"/>
<rect x="184.30" y="294.40" width="18" height="9" rx="3" fill="#000" opacity="0.13" filter="url(#b2)"/>
<rect x="203.50" y="294.10" width="18" height="9" rx="3" fill="#000" opacity="0.13" filter="url(#b2)"/>
<rect x="221.00" y="293.80" width="18" height="9" rx="3" fill="#000" opacity="0.13" filter="url(#b2)"/>
<rect x="93.70" y="294.30" width="14" height="3.0" rx="1.50" fill="#101010" opacity="0.95" filter="url(#b1)" transform="rotate(7 100.7 295.8)"/>
<rect x="112.20" y="296.10" width="15" height="4.0" rx="2.00" fill="#101010" opacity="1" filter="url(#b1)" transform="rotate(4 119.7 298.1)"/>
<rect x="132.70" y="297.40" width="11" height="1.8" rx="0.90" fill="#101010" opacity="0.75" filter="url(#b1)" transform="rotate(-3 138.2 298.3)"/>
<rect x="150.40" y="297.65" width="12" height="1.7" rx="0.85" fill="#101010" opacity="0.7" filter="url(#b1)" transform="rotate(3 156.4 298.5)"/>
<rect x="166.70" y="296.70" width="14.6" height="4.4" rx="2.20" fill="#101010" opacity="1" filter="url(#b1)"/>
<rect x="184.30" y="296.70" width="18" height="4.4" rx="2.20" fill="#101010" opacity="1" filter="url(#b1)"/>
<rect x="204.30" y="296.40" width="16.4" height="4.4" rx="2.20" fill="#101010" opacity="1" filter="url(#b1)"/>
<rect x="222.30" y="296.60" width="15.4" height="3.4" rx="1.70" fill="#101010" opacity="1" filter="url(#b1)" transform="rotate(-3 230.0 298.3)"/>
<rect x="170" y="298.0" width="62" height="1.6" fill="#101010" opacity="0.9" filter="url(#b1)"/>
</g>
<g clip-path="url(#cb4)">
<rect x="92.00" y="325.30" width="19" height="15" rx="3" fill="#000" opacity="0.16" filter="url(#b2)"/>
<rect x="110.90" y="325.40" width="19" height="15" rx="3" fill="#000" opacity="0.16" filter="url(#b2)"/>
<rect x="130.00" y="325.50" width="19" height="15" rx="3" fill="#000" opacity="0.16" filter="url(#b2)"/>
<rect x="147.80" y="325.50" width="19" height="15" rx="3" fill="#000" opacity="0.16" filter="url(#b2)"/>
<rect x="166.30" y="325.30" width="19" height="15" rx="3" fill="#000" opacity="0.16" filter="url(#b2)"/>
<rect x="184.10" y="325.10" width="19" height="15" rx="3" fill="#000" opacity="0.16" filter="url(#b2)"/>
<rect x="200.30" y="325.80" width="19" height="15" rx="3" fill="#000" opacity="0.16" filter="url(#b2)"/>
<rect x="217.90" y="323.90" width="19" height="15" rx="3" fill="#000" opacity="0.16" filter="url(#b2)"/>
<rect x="92.90" y="329.00" width="17.2" height="7.6" rx="2.60" fill="#101010" opacity="1" filter="url(#b1)"/>
<rect x="112.20" y="329.10" width="16.4" height="7.6" rx="2.60" fill="#101010" opacity="1" filter="url(#b1)"/>
<rect x="131.90" y="329.20" width="15.2" height="7.6" rx="2.60" fill="#101010" opacity="1" filter="url(#b1)"/>
<rect x="149.10" y="329.20" width="16.4" height="7.6" rx="2.60" fill="#101010" opacity="1" filter="url(#b1)"/>
<rect x="167.60" y="329.00" width="16.4" height="7.6" rx="2.60" fill="#101010" opacity="1" filter="url(#b1)"/>
<rect x="186.00" y="328.80" width="15.2" height="7.6" rx="2.60" fill="#101010" opacity="1" filter="url(#b1)"/>
<rect x="202.50" y="329.50" width="14.6" height="7.6" rx="2.60" fill="#101010" opacity="1" filter="url(#b1)"/>
<rect x="218.40" y="327.60" width="18.0" height="7.6" rx="2.60" fill="#101010" opacity="1" filter="url(#b1)"/>
<rect x="96.2" y="331.3" width="133.39999999999998" height="3.0" fill="#101010" opacity="0.85" filter="url(#b1)"/>
</g>
<rect x="88.2" y="184.9" width="151.39999999999998" height="31.5" fill="none" stroke="#141414" stroke-width="1.15"/>
<rect x="88.2" y="221.5" width="151.39999999999998" height="25.30000000000001" fill="none" stroke="#141414" stroke-width="1.15"/>
<rect x="88.2" y="253.1" width="151.39999999999998" height="27.200000000000017" fill="none" stroke="#141414" stroke-width="1.15"/>
<rect x="88.2" y="285.2" width="151.39999999999998" height="24.19999999999999" fill="none" stroke="#141414" stroke-width="1.15"/>
<rect x="88.2" y="315.2" width="151.39999999999998" height="31.0" fill="none" stroke="#141414" stroke-width="1.15"/>
<text x="81.4" y="197.3" font-size="8.4" text-anchor="end" fill="#000" textLength="56.4" lengthAdjust="spacingAndGlyphs" stroke="#000" stroke-width="0.22">Cullin 4A-NEDD8</text>
<text x="81.2" y="207.1" font-size="8.4" text-anchor="end" fill="#000" textLength="30.2" lengthAdjust="spacingAndGlyphs" stroke="#000" stroke-width="0.22">Cullin 4A</text>
<text x="242.4" y="203.1" font-size="8.3" text-anchor="start" fill="#000" textLength="38.8" lengthAdjust="spacingAndGlyphs" stroke="#000" stroke-width="0.22">IB: Cullin 4A</text>
<text x="242.4" y="236.3" font-size="8.3" text-anchor="start" fill="#000" textLength="27.6" lengthAdjust="spacingAndGlyphs" stroke="#000" stroke-width="0.22">IB: CRBN</text>
<text x="242.4" y="268.8" font-size="8.3" text-anchor="start" fill="#000" textLength="33.0" lengthAdjust="spacingAndGlyphs" stroke="#000" stroke-width="0.22">IB: UBE2M</text>
<text x="242.4" y="301.1" font-size="8.3" text-anchor="start" fill="#000" textLength="31.6" lengthAdjust="spacingAndGlyphs" stroke="#000" stroke-width="0.22">IB: COPS5</text>
<text x="242.4" y="334.0" font-size="8.3" text-anchor="start" fill="#000" textLength="32.6" lengthAdjust="spacingAndGlyphs" stroke="#000" stroke-width="0.22">IB: β Actin</text>
<text x="55" y="357" font-size="8.3" text-anchor="start" fill="#000" textLength="22.8" lengthAdjust="spacingAndGlyphs" stroke="#000" stroke-width="0.22">gRNA :</text>
<text x="60.9" y="371.2" font-size="8.3" text-anchor="start" fill="#000" textLength="17.8" lengthAdjust="spacingAndGlyphs" stroke="#000" stroke-width="0.22">gene:</text>
<text x="100.4" y="357.2" font-size="8.4" text-anchor="middle" fill="#000" stroke="#000" stroke-width="0.22">1</text>
<text x="119.3" y="357.2" font-size="8.4" text-anchor="middle" fill="#000" stroke="#000" stroke-width="0.22">2</text>
<text x="138.8" y="357.2" font-size="8.4" text-anchor="middle" fill="#000" stroke="#000" stroke-width="0.22">1</text>
<text x="156.4" y="357.2" font-size="8.4" text-anchor="middle" fill="#000" stroke="#000" stroke-width="0.22">2</text>
<text x="174.1" y="357.2" font-size="8.4" text-anchor="middle" fill="#000" stroke="#000" stroke-width="0.22">1</text>
<text x="191.8" y="357.2" font-size="8.4" text-anchor="middle" fill="#000" stroke="#000" stroke-width="0.22">2</text>
<text x="210.0" y="357.2" font-size="8.4" text-anchor="middle" fill="#000" stroke="#000" stroke-width="0.22">1</text>
<text x="229.3" y="357.2" font-size="8.4" text-anchor="middle" fill="#000" stroke="#000" stroke-width="0.22">2</text>
<path d="M98.7,361.3H123.1" stroke="#000" stroke-width="0.9"/>
<text x="110.9" y="371.2" font-size="8.3" text-anchor="middle" fill="#000" textLength="23.6" lengthAdjust="spacingAndGlyphs" stroke="#000" stroke-width="0.22">control</text>
<path d="M135.7,361.3H160.2" stroke="#000" stroke-width="0.9"/>
<text x="146.3" y="371.2" font-size="8.3" text-anchor="middle" fill="#000" textLength="22.4" lengthAdjust="spacingAndGlyphs" stroke="#000" stroke-width="0.22">COPS5</text>
<path d="M171.7,361.3H196.1" stroke="#000" stroke-width="0.9"/>
<text x="183.9" y="371.2" font-size="8.3" text-anchor="middle" fill="#000" textLength="24.4" lengthAdjust="spacingAndGlyphs" stroke="#000" stroke-width="0.22">UBE2M</text>
<path d="M208.8,361.3H233.1" stroke="#000" stroke-width="0.9"/>
<text x="221.2" y="371.2" font-size="8.3" text-anchor="middle" fill="#000" textLength="18.6" lengthAdjust="spacingAndGlyphs" stroke="#000" stroke-width="0.22">CRBN</text>
<path d="M342.3,183.4V292.8" stroke="#000" stroke-width="1.3" fill="none"/>
<text x="336.2" y="295.80" font-size="7.6" text-anchor="end" fill="#000" textLength="9.6" lengthAdjust="spacingAndGlyphs" stroke="#000" stroke-width="0.22">0.0</text>
<path d="M338.90000000000003,257.10H342.3" stroke="#000" stroke-width="1.0"/>
<text x="336.2" y="259.80" font-size="7.6" text-anchor="end" fill="#000" textLength="9.6" lengthAdjust="spacingAndGlyphs" stroke="#000" stroke-width="0.22">0.5</text>
<path d="M338.90000000000003,221.10H342.3" stroke="#000" stroke-width="1.0"/>
<text x="336.2" y="223.80" font-size="7.6" text-anchor="end" fill="#000" textLength="9.6" lengthAdjust="spacingAndGlyphs" stroke="#000" stroke-width="0.22">1.0</text>
<path d="M338.90000000000003,185.10H342.3" stroke="#000" stroke-width="1.0"/>
<text x="336.2" y="187.80" font-size="7.6" text-anchor="end" fill="#000" textLength="9.6" lengthAdjust="spacingAndGlyphs" stroke="#000" stroke-width="0.22">1.5</text>
<rect x="348.60" y="221.10" width="13" height="71.70" fill="#a5002a"/>
<path d="M355.10,292.8V296.0" stroke="#000" stroke-width="1.0"/>
<text transform="translate(358.20,302.70) rotate(-45)" font-size="8.4" text-anchor="end" fill="#000" stroke="#000" stroke-width="0.22" textLength="35" lengthAdjust="spacingAndGlyphs">control g1</text>
<path d="M374.65,209.80V200.29M371.25,200.29h6.8" stroke="#222" stroke-width="0.9" fill="none"/>
<rect x="368.15" y="209.80" width="13" height="83.00" fill="#a5002a"/>
<path d="M374.65,292.8V296.0" stroke="#000" stroke-width="1.0"/>
<text transform="translate(377.75,302.70) rotate(-45)" font-size="8.4" text-anchor="end" fill="#000" stroke="#000" stroke-width="0.22" textLength="35" lengthAdjust="spacingAndGlyphs">control g2</text>
<path d="M394.20,279.78V274.24M390.80,274.24h6.8" stroke="#222" stroke-width="0.9" fill="none"/>
<rect x="388.10" y="280.08" width="12.2" height="12.72" fill="#2b4a82" stroke="#1d3868" stroke-width="0.8"/>
<path d="M394.20,292.8V296.0" stroke="#000" stroke-width="1.0"/>
<text transform="translate(397.30,302.70) rotate(-45)" font-size="8.4" text-anchor="end" fill="#000" stroke="#000" stroke-width="0.22" textLength="32.5" lengthAdjust="spacingAndGlyphs">COPS5 g1</text>
<path d="M413.75,285.32V282.88M410.35,282.88h6.8" stroke="#222" stroke-width="0.9" fill="none"/>
<rect x="407.65" y="285.62" width="12.2" height="7.18" fill="#2b4a82" stroke="#1d3868" stroke-width="0.8"/>
<path d="M413.75,292.8V296.0" stroke="#000" stroke-width="1.0"/>
<text transform="translate(416.85,302.70) rotate(-45)" font-size="8.4" text-anchor="end" fill="#000" stroke="#000" stroke-width="0.22" textLength="32.5" lengthAdjust="spacingAndGlyphs">COPS5 g2</text>
<path d="M433.30,237.30V215.92M429.90,215.92h6.8" stroke="#222" stroke-width="0.9" fill="none"/>
<rect x="426.80" y="237.30" width="13" height="55.50" fill="#6aa842"/>
<path d="M433.30,292.8V296.0" stroke="#000" stroke-width="1.0"/>
<text transform="translate(436.40,302.70) rotate(-45)" font-size="8.4" text-anchor="end" fill="#000" stroke="#000" stroke-width="0.22" textLength="33.5" lengthAdjust="spacingAndGlyphs">UBE2M g1</text>
<path d="M452.85,223.40V209.00M449.45,209.00h6.8" stroke="#222" stroke-width="0.9" fill="none"/>
<rect x="446.35" y="223.40" width="13" height="69.40" fill="#6aa842"/>
<path d="M452.85,292.8V296.0" stroke="#000" stroke-width="1.0"/>
<text transform="translate(455.95,302.70) rotate(-45)" font-size="8.4" text-anchor="end" fill="#000" stroke="#000" stroke-width="0.22" textLength="33.5" lengthAdjust="spacingAndGlyphs">UBE2M g2</text>
<path d="M472.40,292.8V296.0" stroke="#000" stroke-width="1.0"/>
<text transform="translate(475.50,302.70) rotate(-45)" font-size="8.4" text-anchor="end" fill="#000" stroke="#000" stroke-width="0.22" textLength="27" lengthAdjust="spacingAndGlyphs">CRBN g1</text>
<path d="M491.95,292.8V296.0" stroke="#000" stroke-width="1.0"/>
<text transform="translate(495.05,302.70) rotate(-45)" font-size="8.4" text-anchor="end" fill="#000" stroke="#000" stroke-width="0.22" textLength="27" lengthAdjust="spacingAndGlyphs">CRBN g2</text>
<path d="M338.90000000000003,292.8H504.7" stroke="#000" stroke-width="1.3" fill="none"/>
<text transform="translate(319.2,237.8) rotate(-90)" font-size="8.2" text-anchor="middle" fill="#000" stroke="#000" stroke-width="0.22" textLength="112.4" lengthAdjust="spacingAndGlyphs">CRBN expression/ control g1</text>
</g>
<path d="M0,0H520V378H0Z M1.3,1H518.8V376.4H1.3Z" fill="#141414" fill-rule="evenodd"/>
</svg>
</body></html>
